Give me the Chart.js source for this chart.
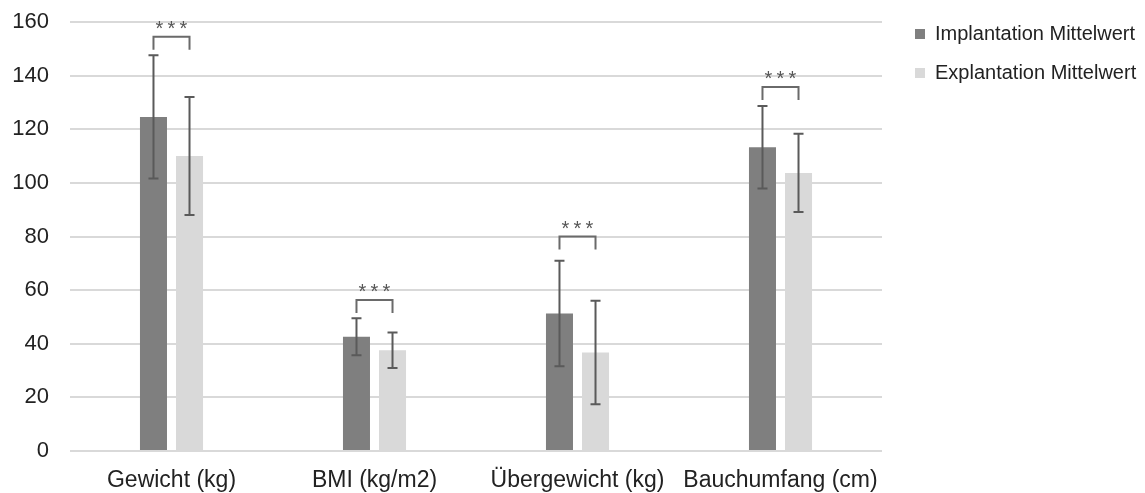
<!DOCTYPE html>
<html>
<head>
<meta charset="utf-8">
<script src="https://cdn.jsdelivr.net/npm/chart.js@4.4.1/dist/chart.umd.min.js"></script>
<style>
    html, body { margin: 0; padding: 0; background: #fff; }
    #wrap { position: relative; width: 1145px; height: 493px; }
    #legend {
        position: absolute; left: 915px; top: 14px;
        font-family: "Liberation Sans", Arial, sans-serif; font-size: 20px; color: #222;
    }
    .item { display: flex; align-items: center; height: 39px; }
    .box { width: 10px; height: 10px; margin-right: 10px; }
</style>
</head>
<body>
<div id="wrap">
    <canvas id="chart" width="1145" height="493"></canvas>
    <div id="legend"></div>
</div>
<script>
// --- Data ---
const categories = ['Gewicht (kg)', 'BMI (kg/m2)', 'Übergewicht (kg)', 'Bauchumfang (cm)'];
const seriesNames = ['Implantation Mittelwert', 'Explantation Mittelwert'];
const implantMean = [124.6, 42.6, 51.3, 113.3];
const implantSD = [23, 6.9, 19.7, 15.4];
const explantMean = [110, 37.6, 36.7, 103.7];
const explantSD = [22, 6.6, 19.3, 14.6];
const sigLabels = ['***', '***', '***', '***'];
const bracketLevel = [154.5, 56.3, 80, 135.8];
const yTicks = [0, 20, 40, 60, 80, 100, 120, 140, 160];

const colors = ['#7f7f7f', '#d9d9d9'];
const errColor = '#5a5a5a';
const fontFamily = '"Liberation Sans", Arial, sans-serif';

// --- Error bars + significance brackets ---
const errorBarPlugin = {
    id: 'errorBars',
    afterDatasetsDraw(chart) {
        const ctx = chart.ctx;
        const y = chart.scales.y;
        const sds = [implantSD, explantSD];
        ctx.save();
        ctx.strokeStyle = errColor;
        ctx.lineWidth = 2;
        chart.data.datasets.forEach((ds, di) => {
            const meta = chart.getDatasetMeta(di);
            meta.data.forEach((bar, i) => {
                const v = ds.data[i];
                const top = y.getPixelForValue(v + sds[di][i]);
                const bot = y.getPixelForValue(v - sds[di][i]);
                ctx.beginPath();
                ctx.moveTo(bar.x, top); ctx.lineTo(bar.x, bot);
                ctx.moveTo(bar.x - 5, top); ctx.lineTo(bar.x + 5, top);
                ctx.moveTo(bar.x - 5, bot); ctx.lineTo(bar.x + 5, bot);
                ctx.stroke();
            });
        });

        // brackets
        const m0 = chart.getDatasetMeta(0).data;
        const m1 = chart.getDatasetMeta(1).data;
        ctx.strokeStyle = '#6a6a6a';
        ctx.fillStyle = '#555';
        ctx.font = '20px ' + fontFamily;
        ctx.textAlign = 'center';
        ctx.textBaseline = 'alphabetic';
        categories.forEach((c, i) => {
            const x1 = m0[i].x, x2 = m1[i].x;
            const by = y.getPixelForValue(bracketLevel[i]);
            ctx.beginPath();
            ctx.moveTo(x1, by + 13); ctx.lineTo(x1, by);
            ctx.lineTo(x2, by); ctx.lineTo(x2, by + 13);
            ctx.stroke();
            const mid = (x1 + x2) / 2;
            const stars = sigLabels[i].split('');
            stars.forEach((s, k) => {
                ctx.fillText(s, mid + (k - (stars.length - 1) / 2) * 12, by - 2);
            });
        });
        ctx.restore();
    }
};

// --- Legend ---
const legendEl = document.getElementById('legend');
legendEl.innerHTML = seriesNames.map((n, i) => `
    <div class="item"><span class="box" style="background:${colors[i]}"></span>${n}</div>
`).join('');

new Chart(document.getElementById('chart'), {
    type: 'bar',
    data: {
        labels: categories,
        datasets: [
            { label: seriesNames[0], data: implantMean, backgroundColor: colors[0] },
            { label: seriesNames[1], data: explantMean, backgroundColor: colors[1] }
        ]
    },
    options: {
        responsive: false,
        animation: false,
        layout: { padding: { left: 0, right: 263, top: 22, bottom: 0 } },
        datasets: { bar: { categoryPercentage: 0.355, barPercentage: 0.75 } },
        scales: {
            x: {
                grid: { display: false, drawTicks: false },
                border: { display: false },
                ticks: { color: '#222', padding: 16, font: { family: fontFamily, size: 23 } },
                afterFit(scale) { scale.height = 42; }
            },
            y: {
                min: 0, max: 160,
                afterBuildTicks(scale) { scale.ticks = yTicks.map(v => ({ value: v })); },
                grid: { color: '#d9d9d9', lineWidth: 2, drawTicks: false },
                border: { display: false },
                ticks: { color: '#222', padding: 21, font: { family: fontFamily, size: 22 } },
                afterFit(scale) {
                    scale.width = 70;
                    scale.paddingTop = 0;
                    scale.paddingBottom = 0;
                }
            }
        },
        plugins: {
            legend: { display: false },
            tooltip: { enabled: false }
        }
    },
    plugins: [errorBarPlugin]
});
</script>
</body>
</html>
